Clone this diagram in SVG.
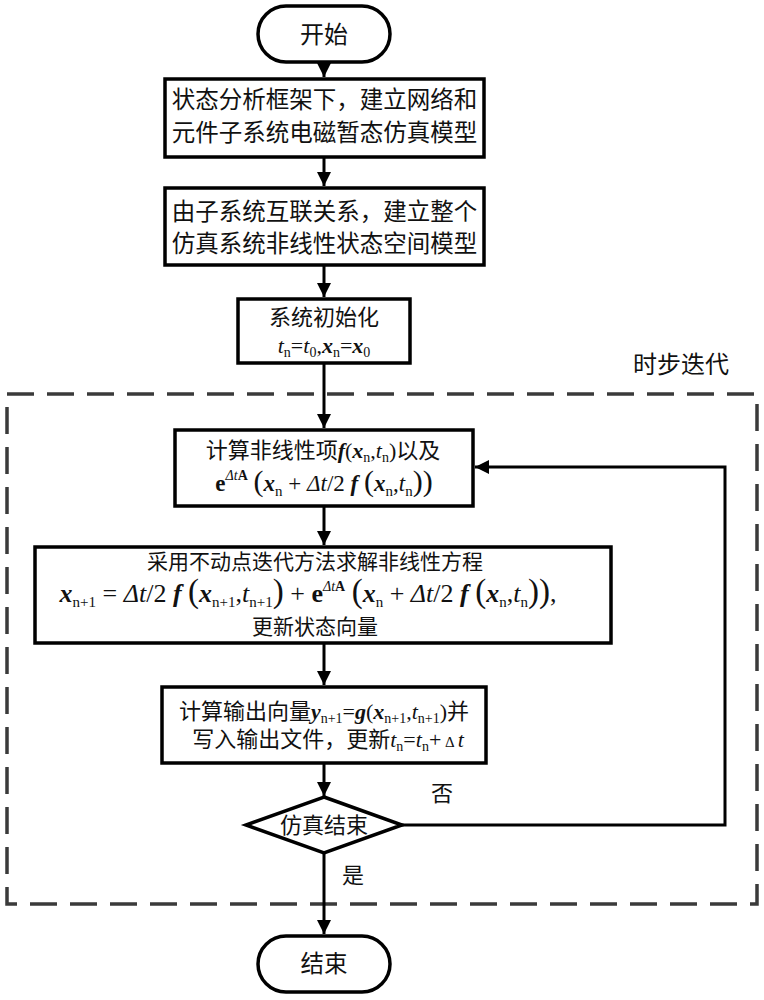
<svg xmlns="http://www.w3.org/2000/svg" width="764" height="1000" viewBox="0 0 764 1000">
<style>
.box{fill:#fff;stroke:#000;stroke-width:3.5}
.t{font-family:"Liberation Serif","Noto Sans CJK SC",serif;fill:#111;text-anchor:middle}
.f23{font-size:23.5px}
.f22{font-size:22px}
.f21{font-size:21px}
.bi{font-weight:bold;font-style:italic}
.i{font-style:italic}
.b{font-weight:bold}
.sub{font-size:14px;baseline-shift:-4px;font-weight:normal;font-style:normal}
.sub2{font-size:15px;baseline-shift:-5px;font-weight:normal;font-style:normal}
.sup{font-size:14px;baseline-shift:11px}
.par{font-weight:normal;font-style:normal}
.conn{fill:none;stroke:#000;stroke-width:3}
.dash{fill:none;stroke:#3a3a3a;stroke-width:3.5;stroke-dasharray:27 13}
</style>
<defs>
<marker id="arr" markerUnits="userSpaceOnUse" viewBox="0 0 14 14" markerWidth="14" markerHeight="14" refX="14" refY="7" orient="auto">
<path d="M0,0 L14,7 L0,14 z" fill="#000"/>
</marker>
</defs>

<g id="loop-frame">
<rect class="dash" x="7" y="394" width="750" height="510"/>
<text class="t" x="681" y="373" font-size="24px">时步迭代</text>
</g>

<g id="connectors">
<line class="conn" x1="324" y1="62" x2="324" y2="77" marker-end="url(#arr)"/>
<line class="conn" x1="324" y1="157" x2="324" y2="186" marker-end="url(#arr)"/>
<line class="conn" x1="324" y1="265" x2="324" y2="297" marker-end="url(#arr)"/>
<line class="conn" x1="324" y1="363" x2="324" y2="428" marker-end="url(#arr)"/>
<line class="conn" x1="324" y1="506" x2="324" y2="545" marker-end="url(#arr)"/>
<line class="conn" x1="324" y1="643" x2="324" y2="685" marker-end="url(#arr)"/>
<line class="conn" x1="324" y1="763" x2="324" y2="796" marker-end="url(#arr)"/>
<line class="conn" x1="324" y1="853" x2="324" y2="934" marker-end="url(#arr)"/>
<polyline class="conn" points="402,825 725,825 725,467 475,467" marker-end="url(#arr)"/>
<text class="t f22" x="442" y="801">否</text>
<text class="t f22" x="353" y="883">是</text>
</g>

<g id="start">
<rect class="box" x="258" y="6" width="132" height="56" rx="28" ry="28"/>
<text class="t" x="324" y="43" font-size="24px">开始</text>
</g>

<g id="build-subsystems">
<rect class="box" x="165" y="79" width="319" height="78"/>
<text class="t f23" x="324.5" y="108">状态分析框架下，建立网络和</text>
<text class="t f23" x="324.5" y="141">元件子系统电磁暂态仿真模型</text>
</g>

<g id="build-system">
<rect class="box" x="165" y="188" width="319" height="77"/>
<text class="t f23" x="324.5" y="220">由子系统互联关系，建立整个</text>
<text class="t f23" x="324.5" y="252">仿真系统非线性状态空间模型</text>
</g>

<g id="init">
<rect class="box" x="238" y="299" width="172" height="64"/>
<text class="t f22" x="324" y="325">系统初始化</text>
<text class="t" x="324" y="353" font-size="22px"><tspan class="i">t</tspan><tspan class="sub">n</tspan>=<tspan class="i">t</tspan><tspan class="sub">0</tspan>,<tspan class="bi">x</tspan><tspan class="sub">n</tspan>=<tspan class="bi">x</tspan><tspan class="sub">0</tspan></text>
</g>

<g id="compute-nonlinear">
<rect class="box" x="175" y="430" width="298" height="76"/>
<text class="t f22" x="323" y="458">计算非线性项<tspan class="bi">f</tspan>(<tspan class="bi">x</tspan><tspan class="sub">n</tspan>,<tspan class="i">t</tspan><tspan class="sub">n</tspan>)以及</text>
<text class="t" x="324" y="491" font-size="23px"><tspan class="b">e</tspan><tspan class="sup"><tspan class="i">Δt</tspan><tspan class="b">A</tspan></tspan> <tspan class="par" font-size="30px">(</tspan><tspan class="bi">x</tspan><tspan class="sub2">n</tspan>  + <tspan class="i">Δt</tspan>/2 <tspan class="bi">f</tspan> <tspan class="par" font-size="30px">(</tspan><tspan class="bi">x</tspan><tspan class="sub2">n</tspan>,<tspan class="i">t</tspan><tspan class="sub2">n</tspan><tspan class="par" font-size="30px">))</tspan></text>
</g>

<g id="fixed-point">
<rect class="box" x="35" y="547" width="576" height="96"/>
<text class="t f21" x="315" y="569">采用不动点迭代方法求解非线性方程</text>
<text class="t" x="308" y="602" font-size="26px"><tspan class="bi">x</tspan><tspan class="sub2">n+1</tspan> = <tspan class="i">Δt</tspan>/2 <tspan class="bi">f</tspan> <tspan class="par" font-size="33px">(</tspan><tspan class="bi">x</tspan><tspan class="sub2">n+1</tspan>,<tspan class="i">t</tspan><tspan class="sub2">n+1</tspan><tspan class="par" font-size="33px">)</tspan> + <tspan class="b">e</tspan><tspan class="sup" font-size="15px"><tspan class="i">Δt</tspan><tspan class="b">A</tspan></tspan> <tspan class="par" font-size="33px">(</tspan><tspan class="bi">x</tspan><tspan class="sub2">n</tspan> + <tspan class="i">Δt</tspan>/2 <tspan class="bi">f</tspan> <tspan class="par" font-size="33px">(</tspan><tspan class="bi">x</tspan><tspan class="sub2">n</tspan>,<tspan class="i">t</tspan><tspan class="sub2">n</tspan><tspan class="par" font-size="33px">))</tspan>,</text>
<text class="t f21" x="315" y="634">更新状态向量</text>
</g>

<g id="output">
<rect class="box" x="162" y="687" width="324" height="76"/>
<text class="t f22" x="324" y="719">计算输出向量<tspan class="bi">y</tspan><tspan class="sub">n+1</tspan>=<tspan class="bi">g</tspan>(<tspan class="bi">x</tspan><tspan class="sub">n+1</tspan>,<tspan class="i">t</tspan><tspan class="sub">n+1</tspan>)并</text>
<text class="t f22" x="328" y="747">写入输出文件，更新<tspan class="i">t</tspan><tspan class="sub">n</tspan>=<tspan class="i">t</tspan><tspan class="sub">n</tspan>+<tspan font-size="15px"> Δ </tspan><tspan class="i">t</tspan></text>
</g>

<g id="decision">
<polygon class="box" points="324,797 402,825 324,853 246,825"/>
<text class="t f22" x="324" y="833">仿真结束</text>
</g>

<g id="end">
<rect class="box" x="258" y="936" width="132" height="56" rx="28" ry="28"/>
<text class="t f23" x="324" y="972">结束</text>
</g>
</svg>
